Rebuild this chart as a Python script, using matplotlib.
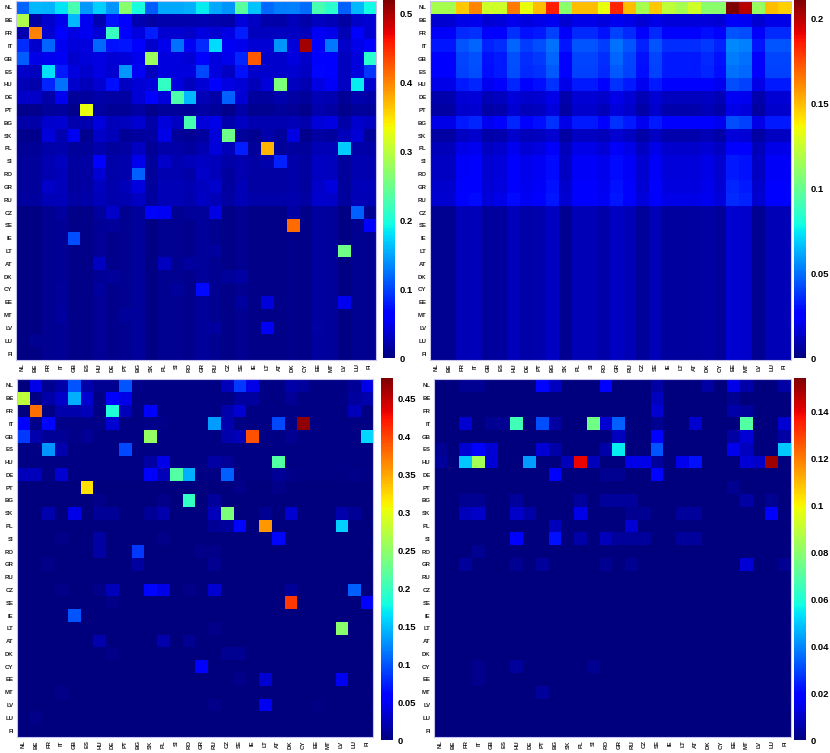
import numpy as np
import matplotlib
matplotlib.use("Agg")
import matplotlib.pyplot as plt
from matplotlib.ticker import FuncFormatter

plt.rcParams["font.family"] = ["Liberation Sans", "DejaVu Sans"]

countries = ["NL", "BE", "FR", "IT", "GB", "ES", "HU", "DE", "PT", "BG", "SK", "PL", "SI", "RO",
             "GR", "RU", "CZ", "SE", "IE", "LT", "AT", "DK", "CY", "EE", "MT", "LV", "LU", "FI"]

# all cell values below are in units of 1e-3

# top left panel
total = [
    [116, 159, 158, 182, 226, 143, 172, 142, 269, 199, 112, 152, 152, 156, 186, 152, 141, 238, 165, 119, 129, 131, 121, 227, 209, 115, 159, 193],
    [292, 18, 36, 50, 159, 52, 23, 75, 62, 24, 18, 22, 22, 21, 24, 22, 19, 42, 31, 20, 20, 27, 19, 29, 25, 18, 33, 39],
    [23, 401, 38, 57, 45, 52, 40, 216, 57, 43, 80, 38, 38, 33, 43, 38, 45, 81, 30, 30, 30, 32, 28, 53, 49, 26, 60, 38],
    [88, 36, 117, 52, 41, 44, 118, 74, 76, 58, 36, 49, 122, 53, 87, 178, 53, 50, 39, 39, 142, 41, 503, 58, 126, 34, 47, 58],
    [113, 47, 51, 53, 35, 42, 46, 39, 41, 50, 280, 44, 44, 39, 59, 44, 50, 85, 424, 35, 35, 43, 33, 60, 65, 30, 44, 208],
    [33, 30, 180, 79, 44, 35, 45, 38, 144, 54, 30, 43, 43, 44, 103, 43, 32, 75, 35, 35, 35, 37, 32, 68, 60, 30, 43, 93],
    [26, 22, 85, 122, 36, 27, 37, 73, 32, 40, 42, 215, 43, 30, 40, 61, 45, 39, 27, 42, 261, 29, 24, 45, 55, 32, 185, 35],
    [34, 34, 19, 52, 13, 15, 20, 17, 18, 39, 66, 41, 231, 160, 25, 19, 115, 39, 15, 15, 22, 18, 13, 25, 24, 12, 21, 19],
    [7, 7, 14, 15, 8, 329, 15, 11, 12, 17, 7, 14, 14, 11, 17, 14, 8, 19, 9, 9, 14, 11, 8, 22, 18, 7, 14, 14],
    [19, 19, 35, 37, 21, 24, 43, 27, 29, 37, 19, 41, 32, 227, 41, 48, 21, 32, 24, 24, 24, 26, 21, 42, 45, 19, 35, 32],
    [7, 7, 41, 24, 51, 9, 34, 27, 12, 15, 17, 47, 13, 11, 15, 41, 250, 13, 9, 21, 13, 45, 8, 17, 16, 27, 40, 13],
    [11, 11, 19, 21, 13, 14, 21, 16, 18, 31, 11, 19, 19, 16, 23, 41, 27, 81, 14, 372, 14, 16, 13, 26, 25, 169, 19, 19],
    [13, 13, 23, 30, 15, 17, 59, 20, 22, 50, 13, 34, 23, 28, 32, 27, 19, 23, 17, 21, 83, 19, 15, 32, 30, 13, 23, 23],
    [13, 13, 23, 28, 15, 17, 40, 20, 22, 114, 13, 23, 23, 20, 33, 28, 15, 23, 17, 17, 17, 19, 15, 32, 30, 13, 23, 23],
    [14, 14, 34, 27, 16, 18, 30, 21, 27, 44, 14, 25, 25, 24, 30, 36, 16, 25, 18, 18, 18, 20, 16, 34, 44, 14, 25, 28],
    [15, 15, 26, 28, 17, 19, 28, 22, 24, 31, 15, 26, 26, 22, 31, 26, 17, 26, 19, 19, 19, 21, 17, 35, 33, 15, 26, 26],
    [4, 4, 10, 16, 5, 6, 16, 33, 9, 13, 66, 53, 10, 13, 13, 45, 5, 10, 6, 6, 6, 17, 5, 15, 14, 4, 115, 10],
    [4, 4, 10, 11, 5, 6, 11, 13, 9, 13, 4, 10, 10, 8, 13, 10, 5, 10, 6, 6, 6, 413, 5, 15, 14, 4, 10, 67],
    [4, 4, 10, 11, 105, 6, 11, 8, 9, 13, 4, 10, 10, 8, 13, 10, 5, 10, 6, 6, 6, 7, 5, 15, 14, 4, 10, 10],
    [4, 4, 10, 11, 5, 6, 11, 8, 9, 13, 4, 10, 10, 8, 13, 15, 5, 10, 6, 6, 6, 7, 5, 15, 14, 252, 10, 10],
    [4, 4, 10, 11, 5, 6, 31, 8, 9, 13, 4, 30, 10, 16, 13, 10, 5, 10, 6, 6, 6, 7, 5, 15, 14, 4, 10, 10],
    [4, 4, 10, 11, 5, 6, 11, 13, 9, 13, 4, 10, 10, 8, 13, 10, 13, 18, 6, 6, 6, 7, 5, 15, 14, 4, 10, 10],
    [4, 4, 10, 13, 5, 6, 15, 8, 9, 13, 4, 10, 13, 8, 70, 10, 5, 10, 6, 6, 6, 7, 5, 15, 14, 4, 10, 10],
    [4, 4, 10, 13, 5, 6, 11, 8, 9, 13, 4, 10, 10, 8, 13, 10, 5, 15, 6, 41, 6, 7, 5, 15, 14, 52, 10, 10],
    [4, 4, 10, 15, 5, 6, 11, 8, 13, 13, 4, 10, 10, 8, 13, 10, 5, 10, 6, 6, 6, 7, 5, 15, 14, 4, 10, 10],
    [4, 4, 10, 11, 5, 6, 11, 8, 9, 13, 4, 10, 10, 8, 13, 15, 5, 10, 6, 54, 6, 7, 5, 18, 14, 4, 10, 10],
    [4, 9, 10, 11, 5, 6, 11, 8, 9, 13, 4, 10, 10, 8, 13, 10, 5, 10, 6, 6, 6, 7, 5, 15, 14, 4, 10, 10],
    [4, 4, 10, 11, 5, 6, 11, 8, 9, 13, 4, 10, 10, 8, 13, 10, 5, 10, 6, 6, 6, 7, 5, 15, 14, 4, 10, 10],
]

# top right panel
background = [
    [116, 116, 147, 162, 126, 126, 164, 134, 149, 185, 109, 149, 149, 134, 183, 149, 116, 147, 122, 116, 126, 109, 109, 210, 200, 112, 149, 145],
    [15, 15, 19, 20, 16, 17, 20, 18, 19, 21, 15, 19, 19, 18, 21, 19, 16, 19, 17, 17, 17, 17, 16, 23, 22, 15, 19, 19],
    [23, 23, 35, 37, 25, 27, 37, 30, 32, 40, 23, 35, 35, 30, 40, 35, 25, 35, 27, 27, 27, 29, 25, 44, 42, 23, 35, 35],
    [31, 31, 44, 47, 33, 36, 47, 39, 42, 50, 31, 44, 44, 39, 50, 44, 33, 44, 36, 36, 36, 38, 33, 55, 53, 31, 44, 44],
    [27, 27, 41, 43, 30, 32, 43, 36, 38, 47, 27, 41, 41, 36, 47, 41, 30, 41, 32, 32, 32, 35, 30, 52, 50, 27, 41, 41],
    [27, 27, 40, 42, 29, 32, 42, 35, 37, 45, 27, 40, 40, 35, 45, 40, 29, 40, 32, 32, 32, 34, 29, 50, 48, 27, 40, 40],
    [19, 19, 32, 34, 21, 24, 34, 27, 29, 37, 19, 32, 32, 27, 37, 32, 21, 32, 24, 24, 24, 26, 21, 42, 40, 19, 32, 32],
    [9, 9, 16, 17, 10, 12, 17, 14, 15, 19, 9, 16, 16, 14, 19, 16, 10, 16, 12, 12, 12, 13, 10, 22, 21, 9, 16, 16],
    [7, 7, 14, 15, 8, 9, 15, 11, 12, 17, 7, 14, 14, 11, 17, 14, 8, 14, 9, 9, 9, 11, 8, 19, 18, 7, 14, 14],
    [19, 19, 32, 34, 21, 24, 34, 27, 29, 37, 19, 32, 32, 27, 37, 32, 21, 32, 24, 24, 24, 26, 21, 42, 40, 19, 32, 32],
    [7, 7, 13, 14, 8, 9, 14, 11, 12, 15, 7, 13, 13, 11, 15, 13, 8, 13, 9, 9, 9, 10, 8, 17, 16, 7, 13, 13],
    [11, 11, 19, 21, 13, 14, 21, 16, 18, 23, 11, 19, 19, 16, 23, 19, 13, 19, 14, 14, 14, 16, 13, 26, 25, 11, 19, 19],
    [13, 13, 23, 25, 15, 17, 25, 20, 22, 28, 13, 23, 23, 20, 28, 23, 15, 23, 17, 17, 17, 19, 15, 32, 30, 13, 23, 23],
    [13, 13, 23, 25, 15, 17, 25, 20, 22, 28, 13, 23, 23, 20, 28, 23, 15, 23, 17, 17, 17, 19, 15, 32, 30, 13, 23, 23],
    [14, 14, 25, 27, 16, 18, 27, 21, 23, 30, 14, 25, 25, 21, 30, 25, 16, 25, 18, 18, 18, 20, 16, 34, 32, 14, 25, 25],
    [15, 15, 26, 28, 17, 19, 28, 22, 24, 31, 15, 26, 26, 22, 31, 26, 17, 26, 19, 19, 19, 21, 17, 35, 33, 15, 26, 26],
    [4, 4, 10, 11, 5, 6, 11, 8, 9, 13, 4, 10, 10, 8, 13, 10, 5, 10, 6, 6, 6, 7, 5, 15, 14, 4, 10, 10],
    [4, 4, 10, 11, 5, 6, 11, 8, 9, 13, 4, 10, 10, 8, 13, 10, 5, 10, 6, 6, 6, 7, 5, 15, 14, 4, 10, 10],
    [4, 4, 10, 11, 5, 6, 11, 8, 9, 13, 4, 10, 10, 8, 13, 10, 5, 10, 6, 6, 6, 7, 5, 15, 14, 4, 10, 10],
    [4, 4, 10, 11, 5, 6, 11, 8, 9, 13, 4, 10, 10, 8, 13, 10, 5, 10, 6, 6, 6, 7, 5, 15, 14, 4, 10, 10],
    [4, 4, 10, 11, 5, 6, 11, 8, 9, 13, 4, 10, 10, 8, 13, 10, 5, 10, 6, 6, 6, 7, 5, 15, 14, 4, 10, 10],
    [4, 4, 10, 11, 5, 6, 11, 8, 9, 13, 4, 10, 10, 8, 13, 10, 5, 10, 6, 6, 6, 7, 5, 15, 14, 4, 10, 10],
    [4, 4, 10, 11, 5, 6, 11, 8, 9, 13, 4, 10, 10, 8, 13, 10, 5, 10, 6, 6, 6, 7, 5, 15, 14, 4, 10, 10],
    [4, 4, 10, 11, 5, 6, 11, 8, 9, 13, 4, 10, 10, 8, 13, 10, 5, 10, 6, 6, 6, 7, 5, 15, 14, 4, 10, 10],
    [4, 4, 10, 11, 5, 6, 11, 8, 9, 13, 4, 10, 10, 8, 13, 10, 5, 10, 6, 6, 6, 7, 5, 15, 14, 4, 10, 10],
    [4, 4, 10, 11, 5, 6, 11, 8, 9, 13, 4, 10, 10, 8, 13, 10, 5, 10, 6, 6, 6, 7, 5, 15, 14, 4, 10, 10],
    [4, 4, 10, 11, 5, 6, 11, 8, 9, 13, 4, 10, 10, 8, 13, 10, 5, 10, 6, 6, 6, 7, 5, 15, 14, 4, 10, 10],
    [4, 4, 10, 11, 5, 6, 11, 8, 9, 13, 4, 10, 10, 8, 13, 10, 5, 10, 6, 6, 6, 7, 5, 15, 14, 4, 10, 10],
]

# bottom left panel
direct = [
    [0, 43, 8, 17, 100, 17, 8, 8, 100, 5, 3, 3, 3, 3, 3, 3, 25, 86, 43, 3, 3, 17, 12, 3, 3, 3, 10, 43],
    [277, 3, 17, 30, 143, 35, 3, 57, 43, 3, 3, 3, 3, 3, 3, 3, 3, 14, 14, 3, 3, 10, 3, 3, 3, 3, 14, 20],
    [0, 378, 3, 20, 20, 25, 3, 186, 25, 3, 57, 3, 3, 3, 3, 3, 20, 35, 3, 3, 3, 3, 3, 3, 3, 3, 25, 3],
    [57, 5, 62, 5, 5, 5, 5, 35, 3, 3, 5, 5, 3, 3, 3, 134, 20, 3, 3, 3, 95, 3, 470, 3, 3, 3, 3, 3],
    [86, 20, 10, 10, 5, 10, 3, 3, 3, 3, 253, 3, 3, 3, 3, 3, 20, 25, 392, 3, 3, 8, 3, 3, 3, 3, 3, 162],
    [3, 3, 129, 20, 3, 3, 3, 3, 95, 3, 3, 3, 3, 3, 3, 3, 3, 3, 3, 3, 3, 3, 3, 3, 3, 3, 3, 3],
    [3, 3, 3, 3, 3, 3, 3, 3, 3, 3, 15, 43, 3, 3, 3, 15, 10, 3, 3, 3, 215, 3, 3, 3, 3, 3, 3, 3],
    [25, 25, 3, 35, 3, 3, 3, 3, 3, 3, 57, 25, 215, 143, 3, 3, 105, 3, 3, 3, 10, 5, 3, 3, 3, 3, 5, 3],
    [0, 0, 0, 0, 0, 320, 0, 0, 0, 0, 0, 0, 0, 0, 0, 0, 0, 5, 0, 0, 5, 0, 0, 0, 0, 0, 0, 0],
    [0, 0, 0, 0, 0, 0, 5, 0, 0, 0, 0, 5, 0, 196, 0, 12, 0, 0, 0, 0, 0, 0, 0, 0, 0, 0, 0, 0],
    [0, 0, 20, 0, 43, 0, 10, 10, 0, 0, 10, 20, 0, 0, 0, 25, 239, 0, 0, 8, 0, 35, 0, 0, 0, 20, 10, 0],
    [0, 0, 0, 0, 0, 0, 0, 0, 0, 0, 0, 0, 0, 0, 0, 10, 14, 62, 0, 358, 0, 0, 0, 0, 0, 158, 0, 0],
    [0, 0, 0, 5, 0, 0, 15, 0, 0, 0, 0, 5, 0, 0, 0, 0, 0, 0, 0, 0, 62, 0, 0, 0, 0, 0, 0, 0],
    [0, 0, 0, 0, 0, 0, 15, 0, 0, 86, 0, 0, 0, 0, 5, 5, 0, 0, 0, 0, 0, 0, 0, 0, 0, 0, 0, 0],
    [0, 0, 5, 0, 0, 0, 0, 0, 0, 14, 0, 0, 0, 0, 0, 8, 0, 0, 0, 0, 0, 0, 0, 0, 0, 0, 0, 0],
    [0, 0, 0, 0, 0, 0, 0, 0, 0, 0, 0, 0, 0, 0, 0, 0, 0, 0, 0, 0, 0, 0, 0, 0, 0, 0, 0, 0],
    [0, 0, 0, 5, 0, 0, 5, 25, 0, 0, 62, 43, 0, 5, 0, 35, 0, 0, 0, 0, 0, 10, 0, 0, 0, 0, 105, 0],
    [0, 0, 0, 0, 0, 0, 0, 5, 0, 0, 0, 0, 0, 0, 0, 0, 0, 0, 0, 0, 0, 406, 0, 0, 0, 0, 0, 57],
    [0, 0, 0, 0, 100, 0, 0, 0, 0, 0, 0, 0, 0, 0, 0, 0, 0, 0, 0, 0, 0, 0, 0, 0, 0, 0, 0, 0],
    [0, 0, 0, 0, 0, 0, 0, 0, 0, 0, 0, 0, 0, 0, 0, 5, 0, 0, 0, 0, 0, 0, 0, 0, 0, 248, 0, 0],
    [0, 0, 0, 0, 0, 0, 20, 0, 0, 0, 0, 20, 0, 8, 0, 0, 0, 0, 0, 0, 0, 0, 0, 0, 0, 0, 0, 0],
    [0, 0, 0, 0, 0, 0, 0, 5, 0, 0, 0, 0, 0, 0, 0, 0, 8, 8, 0, 0, 0, 0, 0, 0, 0, 0, 0, 0],
    [0, 0, 0, 0, 0, 0, 0, 0, 0, 0, 0, 0, 0, 0, 57, 0, 0, 0, 0, 0, 0, 0, 0, 0, 0, 0, 0, 0],
    [0, 0, 0, 0, 0, 0, 0, 0, 0, 0, 0, 0, 0, 0, 0, 0, 0, 5, 0, 35, 0, 0, 0, 0, 0, 48, 0, 0],
    [0, 0, 0, 4, 0, 0, 0, 0, 0, 0, 0, 0, 0, 0, 0, 0, 0, 0, 0, 0, 0, 0, 0, 0, 0, 0, 0, 0],
    [0, 0, 0, 0, 0, 0, 0, 0, 0, 0, 0, 0, 0, 0, 0, 5, 0, 0, 0, 48, 0, 0, 0, 3, 0, 0, 0, 0],
    [0, 5, 0, 0, 0, 0, 0, 0, 0, 0, 0, 0, 0, 0, 0, 0, 0, 0, 0, 0, 0, 0, 0, 0, 0, 0, 0, 0],
    [0, 0, 0, 0, 0, 0, 0, 0, 0, 0, 0, 0, 0, 0, 0, 0, 0, 0, 0, 0, 0, 0, 0, 0, 0, 0, 0, 0],
]

# bottom right panel
residual = [
    [0, 0, 3, 3, 0, 0, 0, 0, 20, 9, 0, 0, 0, 19, 0, 0, 0, 5, 0, 0, 0, 5, 0, 14, 6, 0, 0, 5],
    [0, 0, 0, 0, 0, 0, 0, 0, 0, 0, 0, 0, 0, 0, 0, 0, 0, 9, 0, 0, 0, 0, 0, 3, 0, 0, 0, 0],
    [0, 0, 0, 0, 0, 0, 0, 0, 0, 0, 0, 0, 0, 0, 0, 0, 0, 11, 0, 0, 0, 0, 0, 6, 4, 0, 0, 0],
    [0, 0, 11, 0, 3, 3, 66, 0, 31, 5, 0, 0, 75, 11, 34, 0, 0, 3, 0, 0, 11, 0, 0, 0, 70, 0, 0, 11],
    [0, 0, 0, 0, 0, 0, 0, 0, 0, 0, 0, 0, 0, 0, 9, 0, 0, 19, 0, 0, 0, 0, 0, 5, 12, 0, 0, 5],
    [3, 0, 11, 17, 12, 0, 0, 0, 12, 6, 0, 0, 0, 6, 55, 0, 0, 32, 0, 0, 0, 0, 0, 15, 9, 0, 0, 50],
    [4, 0, 50, 85, 12, 0, 0, 43, 0, 0, 8, 140, 8, 0, 0, 14, 14, 4, 0, 15, 22, 0, 0, 0, 12, 10, 150, 0],
    [0, 0, 0, 0, 0, 0, 0, 0, 0, 17, 0, 0, 0, 3, 3, 0, 0, 20, 0, 0, 0, 0, 0, 0, 0, 0, 0, 0],
    [0, 0, 0, 0, 0, 0, 0, 0, 0, 0, 0, 0, 0, 0, 0, 0, 0, 0, 0, 0, 0, 0, 0, 3, 0, 0, 0, 0],
    [0, 0, 3, 3, 0, 0, 4, 0, 0, 0, 0, 4, 0, 4, 4, 4, 0, 0, 0, 0, 0, 0, 0, 0, 5, 0, 3, 0],
    [0, 0, 8, 10, 0, 0, 10, 6, 0, 0, 0, 14, 0, 0, 0, 3, 3, 0, 0, 4, 4, 0, 0, 0, 0, 0, 17, 0],
    [0, 0, 0, 0, 0, 0, 0, 0, 0, 8, 0, 0, 0, 0, 0, 12, 0, 0, 0, 0, 0, 0, 0, 0, 0, 0, 0, 0],
    [0, 0, 0, 0, 0, 0, 19, 0, 0, 22, 0, 6, 0, 8, 4, 4, 4, 0, 0, 4, 4, 0, 0, 0, 0, 0, 0, 0],
    [0, 0, 0, 3, 0, 0, 0, 0, 0, 0, 0, 0, 0, 0, 0, 0, 0, 0, 0, 0, 0, 0, 0, 0, 0, 0, 0, 0],
    [0, 0, 4, 0, 0, 0, 3, 0, 4, 0, 0, 0, 0, 3, 0, 3, 0, 0, 0, 0, 0, 0, 0, 0, 12, 0, 0, 3],
    [0, 0, 0, 0, 0, 0, 0, 0, 0, 0, 0, 0, 0, 0, 0, 0, 0, 0, 0, 0, 0, 0, 0, 0, 0, 0, 0, 0],
    [0, 0, 0, 0, 0, 0, 0, 0, 0, 0, 0, 0, 0, 0, 0, 0, 0, 0, 0, 0, 0, 0, 0, 0, 0, 0, 0, 0],
    [0, 0, 0, 0, 0, 0, 0, 0, 0, 0, 0, 0, 0, 0, 0, 0, 0, 0, 0, 0, 0, 0, 0, 0, 0, 0, 0, 0],
    [0, 0, 0, 0, 0, 0, 0, 0, 0, 0, 0, 0, 0, 0, 0, 0, 0, 0, 0, 0, 0, 0, 0, 0, 0, 0, 0, 0],
    [0, 0, 0, 0, 0, 0, 0, 0, 0, 0, 0, 0, 0, 0, 0, 0, 0, 0, 0, 0, 0, 0, 0, 0, 0, 0, 0, 0],
    [0, 0, 0, 0, 0, 0, 0, 0, 0, 0, 0, 0, 0, 0, 0, 0, 0, 0, 0, 0, 0, 0, 0, 0, 0, 0, 0, 0],
    [0, 0, 0, 0, 0, 0, 0, 0, 0, 0, 0, 0, 0, 0, 0, 0, 0, 0, 0, 0, 0, 0, 0, 0, 0, 0, 0, 0],
    [0, 0, 0, 2, 0, 0, 4, 0, 0, 0, 0, 0, 3, 0, 0, 0, 0, 0, 0, 0, 0, 0, 0, 0, 0, 0, 0, 0],
    [0, 0, 0, 2, 0, 0, 0, 0, 0, 0, 0, 0, 0, 0, 0, 0, 0, 0, 0, 0, 0, 0, 0, 0, 0, 0, 0, 0],
    [0, 0, 0, 0, 0, 0, 0, 0, 4, 0, 0, 0, 0, 0, 0, 0, 0, 0, 0, 0, 0, 0, 0, 0, 0, 0, 0, 0],
    [0, 0, 0, 0, 0, 0, 0, 0, 0, 0, 0, 0, 0, 0, 0, 0, 0, 0, 0, 0, 0, 0, 0, 0, 0, 0, 0, 0],
    [0, 0, 0, 0, 0, 0, 0, 0, 0, 0, 0, 0, 0, 0, 0, 0, 0, 0, 0, 0, 0, 0, 0, 0, 0, 0, 0, 0],
    [0, 0, 0, 0, 0, 0, 0, 0, 0, 0, 0, 0, 0, 0, 0, 0, 0, 0, 0, 0, 0, 0, 0, 0, 0, 0, 0, 0],
]

# colour scale maximum and tick step for each panel
scale_max = [0.520, 0.2106, 0.4777, 0.1545]
tick_step = [0.1, 0.05, 0.05, 0.02]

W, H = 830, 753
# (left, top, width, height) in pixels
heat_box = [(16, 1, 360, 359), (430, 1, 361, 359), (17, 379, 356, 358), (434, 379, 357, 358)]
bar_box = [(383, 0, 12, 358), (794, 0, 12, 358), (381, 378, 12, 362), (794, 378, 12, 362)]


def px_rect(box):
    l, t, w, h = box
    return [l / W, 1 - (t + h) / H, w / W, h / H]


fig = plt.figure(figsize=(W / 100, H / 100), dpi=100)

for k, mat in enumerate([total, background, direct, residual]):
    data = np.array(mat) / 1000.0
    ax = fig.add_axes(px_rect(heat_box[k]))
    im = ax.imshow(data, cmap="jet", vmin=0, vmax=scale_max[k], aspect="auto", interpolation="nearest")
    ax.set_xticks(range(len(countries)))
    ax.set_xticklabels(countries, rotation=90, fontsize=4.3, fontweight="bold", color="#222222")
    ax.set_yticks(range(len(countries)))
    ax.set_yticklabels(countries, fontsize=4.3, fontweight="bold", color="#222222")
    ax.tick_params(length=0, pad=2.5)
    for sp in ax.spines.values():
        sp.set_color("#c4c4ec")
        sp.set_linewidth(0.8)

    cax = fig.add_axes(px_rect(bar_box[k]))
    cb = fig.colorbar(im, cax=cax)
    cb.outline.set_visible(False)
    ticks = np.round(np.arange(0, scale_max[k] + 1e-9, tick_step[k]), 3)
    cb.set_ticks(ticks)
    cb.ax.yaxis.set_major_formatter(FuncFormatter(lambda v, p: f"{v:g}"))
    cax.tick_params(length=0, labelsize=6.8, pad=3)
    for lab in cax.get_yticklabels():
        lab.set_fontweight("bold")

fig.savefig("out.png", dpi=100)
